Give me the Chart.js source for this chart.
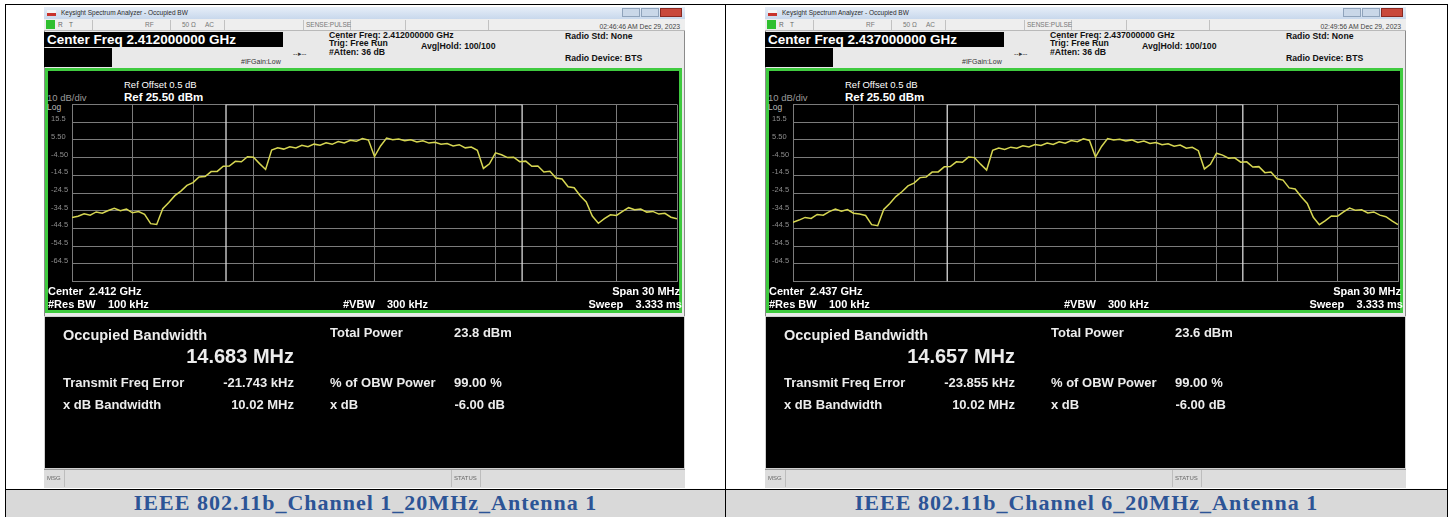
<!DOCTYPE html>
<html>
<head>
<meta charset="utf-8">
<title>Occupied BW - 802.11b</title>
<script src="https://cdn.jsdelivr.net/npm/chart.js@4.4.1/dist/chart.umd.min.js"></script>
<style>
  html, body { margin: 0; padding: 0; background: #fff; width: 1453px; height: 517px; overflow: hidden;
    font-family: "Liberation Sans", Arial, sans-serif; }
  .abs { position: absolute; white-space: pre; }
  .shot { position: absolute; top: 7px; width: 641px; height: 481px; background: #e9e9e9;
    outline: 1px solid #8a8a8a; outline-offset: -1px; overflow: hidden; }
  .capText { position: absolute; top: 490px; height: 27px; line-height: 28px; text-align: center;
    font: bold 22px "Liberation Serif", serif; color: #2c5496; letter-spacing: 1px; }
</style>
</head>
<body>
<div id="page"></div>
<script>
// --- DATA ---

// sweep: 101 bins across the 30 MHz span, offsets in MHz from the centre
const SWEEP_START = -15;
const SWEEP_STEP = 0.3;
const REF_LEVEL = 25.5;   // dBm, top graticule line
const REF_BOTTOM = -74.5; // 10 dB/div, 10 divisions

const xGridMHz = [-15, -12, -9, -6, -3, 0, 3, 6, 9, 12, 15];
const yGridLevels = [25.5, 15.5, 5.5, -4.5, -14.5, -24.5, -34.5, -44.5, -54.5, -64.5, -74.5];
const yTickLabels = ['', '15.5', '5.50', '-4.50', '-14.5', '-24.5', '-34.5', '-44.5', '-54.5', '-64.5', ''];

// trace levels (dBm)
const ch1Level = [
  -38.4, -37.6, -36.3, -37.0, -35.2, -35.9, -34.4, -33.2, -34.5, -33.6,
  -35.7, -35.0, -36.6, -41.8, -42.3, -33.4, -29.9, -26.0, -23.4, -20.2,
  -18.6, -15.4, -15.2, -12.4, -12.3, -9.4, -9.3, -6.6, -6.9, -4.0,
  -4.3, -7.9, -11.2, -0.2, 1.1, 0.3, 1.6, 1.0, 2.4, 1.7,
  3.1, 2.5, 3.9, 3.0, 4.6, 3.8, 5.3, 4.7, 6.3, 5.4,
  -3.9, 2.1, 6.5, 5.6, 6.0, 5.0, 5.6, 4.3, 5.0, 3.7,
  4.2, 3.0, 3.5, 2.1, 2.8, 1.0, 1.5, -0.4, -10.6, -8.0,
  -1.8, -2.9, -4.5, -4.3, -6.8, -6.5, -9.4, -9.2, -12.6, -12.2,
  -16.0, -16.6, -21.0, -21.5, -26.0, -29.6, -37.5, -41.6, -39.0, -36.8,
  -37.2, -34.9, -32.8, -34.0, -33.6, -35.3, -34.9, -36.4, -36.0, -38.2,
  -39.1
];
const ch6Level = [
  -41.0, -39.8, -38.3, -38.9, -36.6, -37.0, -35.0, -33.6, -34.8, -33.9,
  -35.9, -36.4, -37.2, -42.4, -43.0, -33.8, -30.4, -26.5, -23.8, -20.5,
  -18.9, -15.8, -15.5, -12.7, -12.6, -9.7, -9.6, -6.9, -7.1, -4.2,
  -4.5, -8.2, -11.5, -0.4, 0.9, 0.1, 1.4, 0.8, 2.2, 1.5,
  2.9, 2.3, 3.7, 2.9, 4.4, 3.6, 5.1, 4.5, 6.1, 5.2,
  -4.2, 1.8, 6.3, 5.4, 5.9, 4.9, 5.5, 4.1, 4.8, 3.5,
  4.0, 2.8, 3.3, 1.9, 2.6, 0.8, 1.3, -0.6, -10.9, -8.3,
  -2.0, -3.1, -4.8, -4.6, -7.1, -6.9, -9.8, -9.6, -13.0, -12.7,
  -16.5, -17.2, -21.6, -22.2, -26.6, -30.4, -38.2, -42.4, -40.1, -37.5,
  -37.6, -35.2, -33.0, -34.3, -34.0, -35.8, -35.2, -37.0, -37.9, -40.3,
  -42.3
];

// per-screenshot text
const centerFreqs = ['2.412000000', '2.437000000'];
const centerShort = ['2.412', '2.437'];
const timestamps = ['02:46:46 AM Dec 29, 2023', '02:49:56 AM Dec 29, 2023'];
const obwMHz = [14.683, 14.657];
const totalPower = ['23.8 dBm', '23.6 dBm'];
const freqErrorKHz = [-21.743, -23.855];
const xdbBandwidth = ['10.02 MHz', '10.02 MHz'];
const captions = ['IEEE 802.11b_Channel 1_20MHz_Antenna 1', 'IEEE 802.11b_Channel 6_20MHz_Antenna 1'];

// --- HELPERS ---

function el(parent, css, text) {
  const d = document.createElement('div');
  d.className = 'abs';
  Object.assign(d.style, css);
  if (text !== undefined) d.textContent = text;
  parent.appendChild(d);
  return d;
}

// text centred vertically on y; opts.right puts the right edge on x
function txt(parent, text, x, y, size, opts = {}) {
  const lh = Math.round(size * 1.3);
  const d = el(parent, {
    left: x + 'px', top: (y - lh / 2) + 'px', fontSize: size + 'px', lineHeight: lh + 'px',
    fontWeight: opts.bold ? 'bold' : 'normal', color: opts.color || '#fff'
  }, text);
  if (opts.right) d.style.transform = 'translateX(-100%)';
  return d;
}

function box(parent, x, y, w, h, css = {}) {
  return el(parent, Object.assign({ left: x + 'px', top: y + 'px', width: w + 'px', height: h + 'px',
    boxSizing: 'border-box' }, css));
}

// --- CHART ---

function makeTraceChart(canvas, levels, obw, ferrKHz) {
  const centre = ferrKHz / 1000;
  const lo = centre - obw / 2;
  const hi = centre + obw / 2;
  const trace = levels.map((v, i) => ({ x: SWEEP_START + i * SWEEP_STEP, y: v }));
  const gridStyle = { color: '#7b7b7b', lineWidth: 1, drawTicks: false };

  return new Chart(canvas.getContext('2d'), {
    type: 'line',
    data: {
      datasets: [{
        data: trace,
        borderColor: '#d6d652',
        borderWidth: 1.5,
        pointRadius: 0,
        tension: 0,
        order: 0
      }, {
        // OBW markers
        data: [{ x: lo, y: REF_BOTTOM }, { x: lo, y: REF_LEVEL }, { x: hi, y: REF_LEVEL }, { x: hi, y: REF_BOTTOM }],
        borderColor: '#dcdcdc',
        borderWidth: 1.3,
        pointRadius: 0,
        tension: 0,
        order: 1
      }]
    },
    options: {
      responsive: false,
      animation: false,
      events: [],
      layout: { padding: { left: 3, right: 3, top: 4, bottom: 4 } },
      plugins: { legend: { display: false }, tooltip: { enabled: false } },
      scales: {
        x: {
          type: 'linear', min: -15, max: 15,
          afterBuildTicks: (s) => { s.ticks = xGridMHz.map(v => ({ value: v })); },
          afterFit: (s) => { s.height = 0; },
          ticks: { display: false },
          grid: gridStyle,
          border: { display: false }
        },
        y: {
          type: 'linear', min: REF_BOTTOM, max: REF_LEVEL,
          afterBuildTicks: (s) => { s.ticks = [...yGridLevels].reverse().map(v => ({ value: v })); },
          afterFit: (s) => { s.width = 21; },
          ticks: {
            autoSkip: false, crossAlign: 'far', padding: 0, labelOffset: -3,
            color: '#8d8d8d', font: { family: 'Liberation Sans', size: 7.5 },
            callback: (v) => {
              const i = yGridLevels.findIndex(l => Math.abs(l - v) < 0.01);
              return i >= 0 ? yTickLabels[i] : '';
            }
          },
          grid: gridStyle,
          border: { display: false }
        }
      }
    }
  });
}

// --- SCREENSHOT ---

function buildShot(page, left, k, levels) {
  const s = el(page, {}, undefined);
  s.className = 'shot';
  s.style.left = left + 'px';

  // title bar
  box(s, 0, 0, 641, 12, { background: 'linear-gradient(#e6eef8, #c8d8ec)' });
  box(s, 3, 3, 9, 6, { background: 'linear-gradient(#f4f4f4 0 45%, #c8332c 45%)' });
  txt(s, 'Keysight Spectrum Analyzer - Occupied BW', 17, 6, 6.5, { color: '#2b2b2b' });
  box(s, 578, 1, 18, 9, { background: '#c9d7e8', border: '1px solid #8fa3bb' });
  box(s, 597, 1, 18, 9, { background: '#c9d7e8', border: '1px solid #8fa3bb' });
  box(s, 616, 1, 22, 9, { background: '#c9493c', border: '1px solid #8a2a22' });

  // status row
  box(s, 0, 12, 641, 12, { background: '#eeeeee', borderBottom: '1px solid #b9b9b9' });
  box(s, 2, 13, 9, 9, { background: '#2fbf2f' });
  txt(s, 'R', 14, 18, 6.5, { color: '#666' });
  txt(s, 'T', 25, 18, 6.5, { color: '#666' });
  txt(s, 'RF', 101, 18, 6.5, { color: '#777' });
  txt(s, '50 \u03A9', 138, 18, 6.5, { color: '#777' });
  txt(s, 'AC', 161, 18, 6.5, { color: '#777' });
  [48, 126, 180, 259, 306, 361, 444].forEach(x => box(s, x, 13, 1, 10, { background: '#c2c2c2' }));
  txt(s, 'SENSE:PULSE', 262, 18, 6.5, { color: '#777' });
  txt(s, timestamps[k], 636, 19, 6.8, { color: '#444', right: true });

  // frequency boxes + settings
  box(s, 0, 25, 239, 15, { background: '#000' });
  txt(s, 'Center Freq ' + centerFreqs[k] + ' GHz', 3, 32.5, 13.5, { bold: true });
  box(s, 0, 41, 68, 19, { background: '#000' });
  txt(s, '#IFGain:Low', 197, 54, 7, { color: '#333' });
  txt(s, '\u2010\u2010\u25B8\u2010\u2010', 249, 46, 7, { color: '#333' });
  txt(s, 'Center Freq: ' + centerFreqs[k] + ' GHz', 285, 28, 8.7, { bold: true, color: '#111' });
  txt(s, 'Trig: Free Run', 285, 36.5, 8.7, { bold: true, color: '#111' });
  txt(s, '#Atten: 36 dB', 285, 45, 8.7, { bold: true, color: '#111' });
  txt(s, 'Avg|Hold: 100/100', 377, 39, 8.7, { bold: true, color: '#111' });
  txt(s, 'Radio Std: None', 521, 29, 8.7, { bold: true, color: '#111' });
  txt(s, 'Radio Device: BTS', 521, 51.5, 8.7, { bold: true, color: '#111' });

  // graph window
  box(s, 1, 61, 637, 245, { background: '#000', border: '3px solid #3fca3f' });
  txt(s, 'Ref Offset 0.5 dB', 80, 78, 9.5);
  txt(s, '10 dB/div', 3, 91, 9.5, { color: '#9a9a9a' });
  txt(s, 'Ref 25.50 dBm', 80, 90, 11.5, { bold: true });
  txt(s, 'Log', 3, 100, 8.5, { color: '#bcbcbc' });

  const cv = document.createElement('canvas');
  cv.width = 632; cv.height = 186;
  Object.assign(cv.style, { position: 'absolute', left: '4px', top: '93px', width: '632px', height: '186px' });
  s.appendChild(cv);
  makeTraceChart(cv, levels, obwMHz[k], freqErrorKHz[k]);

  txt(s, 'Center  ' + centerShort[k] + ' GHz', 4, 284, 11, { bold: true });
  txt(s, '#Res BW    100 kHz', 4, 297, 11, { bold: true });
  txt(s, '#VBW    300 kHz', 299, 297, 11, { bold: true });
  txt(s, 'Span 30 MHz', 636, 284, 11, { bold: true, right: true });
  txt(s, 'Sweep    3.333 ms', 638, 297, 11, { bold: true, right: true });

  // result panel
  box(s, 0, 309, 641, 153, { background: '#000', border: '1px solid #cfcfcf' });
  const c = '#ececec';
  txt(s, 'Occupied Bandwidth', 19, 328, 14.5, { bold: true, color: c });
  txt(s, obwMHz[k].toFixed(3) + ' MHz', 250, 349, 20, { bold: true, color: c, right: true });
  txt(s, 'Total Power', 286, 325, 13, { bold: true, color: c });
  txt(s, totalPower[k], 410, 325, 13, { bold: true, color: c });
  txt(s, 'Transmit Freq Error', 19, 375, 13, { bold: true, color: c });
  txt(s, freqErrorKHz[k].toFixed(3) + ' kHz', 250, 375, 13, { bold: true, color: c, right: true });
  txt(s, '% of OBW Power', 286, 375, 13, { bold: true, color: c });
  txt(s, '99.00 %', 410, 375, 13, { bold: true, color: c });
  txt(s, 'x dB Bandwidth', 19, 397, 13, { bold: true, color: c });
  txt(s, xdbBandwidth[k], 250, 397, 13, { bold: true, color: c, right: true });
  txt(s, 'x dB', 286, 397, 13, { bold: true, color: c });
  txt(s, '-6.00 dB', 461, 397, 13, { bold: true, color: c, right: true });

  // bottom status bar
  box(s, 0, 462, 641, 19, { background: '#dddddd', borderTop: '1px solid #9a9a9a' });
  txt(s, 'MSG', 3, 471, 6, { color: '#666' });
  box(s, 20, 463, 1, 17, { background: '#bdbdbd' });
  box(s, 407, 463, 1, 17, { background: '#bdbdbd' });
  box(s, 436, 463, 1, 17, { background: '#bdbdbd' });
  txt(s, 'STATUS', 410, 471, 6, { color: '#666' });
}

// --- PAGE ---

const page = document.getElementById('page');

// table lines and caption row
box(page, 6, 490, 1441, 27, { background: '#d9d9d9' });
box(page, 5, 4, 1443, 1, { background: '#000' });
box(page, 5, 4, 1, 513, { background: '#000' });
box(page, 725, 4, 1, 513, { background: '#000' });
box(page, 1447, 4, 1, 513, { background: '#000' });
box(page, 5, 489, 1443, 1, { background: '#000' });

buildShot(page, 44, 0, ch1Level);
buildShot(page, 765, 1, ch6Level);

captions.forEach((t, i) => {
  const d = el(page, { left: (i === 0 ? 6 : 726) + 'px', width: (i === 0 ? 719 : 721) + 'px' }, t);
  d.className = 'capText';
});
</script>
</body>
</html>
